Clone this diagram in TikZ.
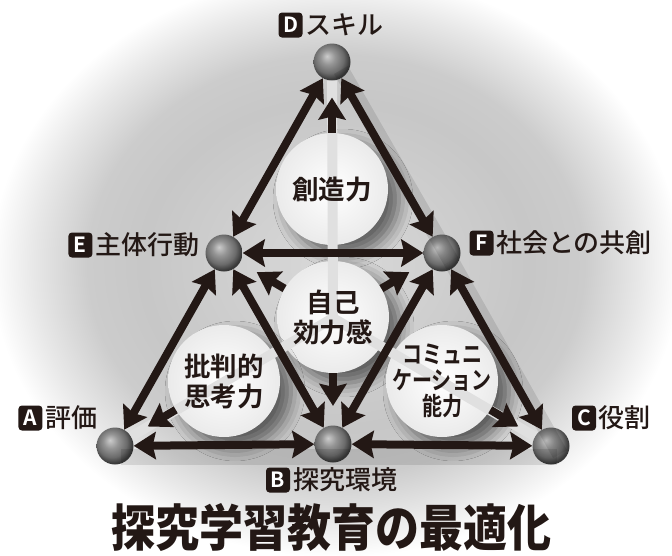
\documentclass[tikz,border=0pt]{standalone}
\usepackage{fontspec}
\newfontfamily\jpm{Noto Sans CJK JP Medium}
\newfontfamily\jpb{Noto Sans CJK JP Bold}
\newfontfamily\jpbn{Noto Sans CJK JP Bold}[FakeStretch=0.8]
\newfontfamily\jpk{Noto Sans CJK JP Black}[FakeStretch=0.88]
\usetikzlibrary{arrows.meta,calc,shadows.blur}
\definecolor{ink}{HTML}{231815}
\pgfdeclareradialshading{bgshade}{\pgfpoint{0bp}{0bp}}{color(0bp)=(black!15); color(14bp)=(black!22); color(18bp)=(black!20); color(22bp)=(black!9); color(25bp)=(white); color(50bp)=(white)}
\pgfdeclareradialshading{sphere}{\pgfpoint{-7bp}{8bp}}{color(0bp)=(black!20); color(10bp)=(black!42); color(20bp)=(black!58); color(27bp)=(black!78); color(50bp)=(black!78)}
\begin{document}
\begin{tikzpicture}[x=1pt,y=-1pt,
  ball/.style={circle, minimum size=37pt, inner sep=0pt, shading=sphere},
  disc/.style={circle, minimum size=112pt, inner sep=0pt, inner color=white, outer color=black!8,
    blur shadow={shadow xshift=11pt, shadow yshift=-10pt, shadow blur radius=14pt, shadow opacity=55}},
  disctext/.style={align=center, text=ink, inner sep=0pt, font=\jpb\fontsize{26.5}{30}\selectfont},
  stripe/.style={draw=black!12, line width=10pt},
  dbl/.style={draw=ink, line width=8pt, {Stealth[inset=3pt,length=22pt,width=27pt]}-{Stealth[inset=3pt,length=22pt,width=27pt]}},
  sgl/.style={draw=ink, line width=8pt, -{Stealth[inset=3pt,length=22pt,width=27pt]}},
  shad/.style={draw=black, line width=16pt, opacity=0.10},
  badge/.style={fill=ink, text=white, rounded corners=3.5pt, minimum width=24pt, minimum height=25pt, inner sep=0pt, font=\jpb\fontsize{21}{21}\selectfont},
  lbl/.style={text=ink, inner sep=0pt, font=\jpm\fontsize{26}{26}\selectfont}]
\useasboundingbox (0,0) rectangle (672,555);
\fill[white] (0,0) rectangle (672,555);
\shade[shading=bgshade] (336,265) ellipse [x radius=345, y radius=292];

% vertices
\node[ball] (D) at (332,62) {};
\node[ball] (E) at (224,253) {};
\node[ball] (F) at (442,253) {};
\node[ball] (A) at (115,446) {};
\node[ball] (B) at (333,444) {};
\node[ball] (C) at (551,446) {};
\coordinate (O) at (333,318);

% soft shadows of the bottom connectors
\draw[shad] ([shift={(6,11)}]A.center) -- ([shift={(6,11)}]C.center);
\draw[shad] ([shift={(9,8)}]F.center) -- ([shift={(9,8)}]C.center);
\draw[shad] ([shift={(9,8)}]D.center) -- ([shift={(9,8)}]F.center);

% discs
\node[disc] (cT) at (332,189) {};
\node[disc] (cM) at (333,317) {};
\node[disc] (cL) at (224,381) {};
\node[disc] (cR) at (442,381) {};

% light stripes
\draw[stripe] (O) -- (D);
\draw[stripe] (O) -- (A);
\draw[stripe] (O) -- (C);

% disc texts
\node[disctext] (xT) at (cT) {創造力};
\node[disctext] (xM) at (cM) {自己\\効力感};
\node[disctext] (xL) at (cL) {批判的\\思考力};
\node[disctext, font=\jpbn\fontsize{25}{26}\selectfont] (xR) at (cR) {コミュニ\\ケーション\\能力};

% inner arrows
\coordinate (tD) at ($(cT)!0.72!(D)$);
\coordinate (tE) at ($(cM)!0.70!(E)$);
\coordinate (tF) at ($(cM)!0.70!(F)$);
\coordinate (tB) at ($(cM)!0.70!(B)$);
\coordinate (tA) at ($(cL)!0.70!(A)$);
\coordinate (tC) at ($(cR)!0.70!(C)$);
\draw[sgl] (cT) -- (tD);
\draw[sgl] (cM) -- (tE);
\draw[sgl] (cM) -- (tF);
\draw[sgl] (cM) -- (tB);
\draw[sgl] (cL) -- (tA);
\draw[sgl] (cR) -- (tC);

% edge arrows
\draw[dbl] (D) -- (E);
\draw[dbl] (D) -- (F);
\draw[dbl] (E) -- (F);
\draw[dbl] (E) -- (A);
\draw[dbl] (E) -- (B);
\draw[dbl] (F) -- (B);
\draw[dbl] (F) -- (C);
\draw[dbl] (A) -- (B);
\draw[dbl] (B) -- (C);

% labels
\node[badge] (bD) at (290.5,25) {D};
\node[lbl, anchor=west] (lD) at (305,25) {スキル};
\node[lbl, anchor=east] (lE) at (200,245) {主体行動};
\node[badge, anchor=east] (bE) at ([xshift=-3pt]lE.west) {E};
\node[badge] (bF) at (481.5,243) {F};
\node[lbl, anchor=west] (lF) at (496,243) {社会との共創};
\node[lbl, anchor=east] (lA) at (98,418) {評価};
\node[badge, anchor=east] (bA) at ([xshift=-3pt]lA.west) {A};
\node[badge] (bC) at (584,418) {C};
\node[lbl, anchor=west] (lC) at (598,418) {役割};
\node[badge] (bB) at (278,480) {B};
\node[lbl, anchor=west] (lB) at (293,480) {探究環境};

% title
\node[text=ink, inner sep=0pt, font=\jpk\fontsize{50}{50}\selectfont] (title) at (331,527) {探究学習教育の最適化};
\end{tikzpicture}
\end{document}
